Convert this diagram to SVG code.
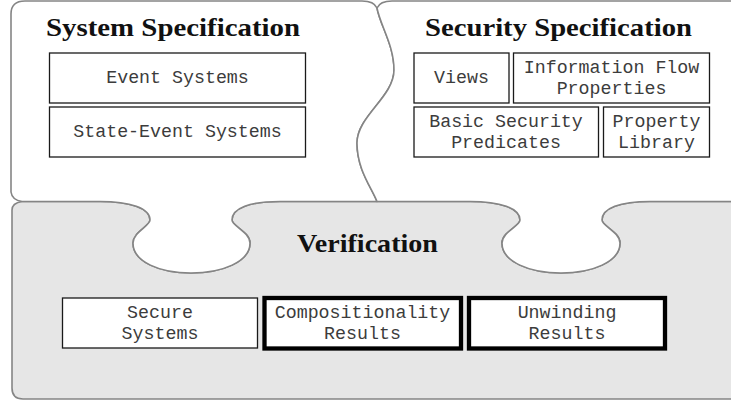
<svg xmlns="http://www.w3.org/2000/svg" width="731" height="403" viewBox="0 0 731 403">
  <style>
    .piece { stroke: #858585; stroke-width: 1.6; stroke-linejoin: round; }
    .top { fill: #ffffff; }
    .bottom { fill: #e6e6e6; }
    .title { font-family: "Liberation Serif", "Times New Roman", serif; font-weight: bold; font-size: 24.5px; fill: #111; }
    .box { fill: #ffffff; stroke: #1a1a1a; stroke-width: 1.3; }
    .box.strong { stroke: #000; stroke-width: 4.3; }
    .label { font-family: "Liberation Mono", "Courier New", monospace; font-size: 18.3px; fill: #3c3c3c; text-anchor: middle; }
  </style>

  <!-- puzzle pieces -->
  <g id="verification-piece">
    <path class="piece bottom" d="M 22,201.5 H 100
      C 130,201.5 150,208 150,220 C 150,226 133,232 133,243 C 133,262 160,273 191,273 C 222,273 250,262 250,243 C 250,232 232,226 232,220 C 232,208 250,201.5 280,201.5
      H 470
      C 500,201.5 520,208 520,220 C 520,226 502,232 502,243 C 502,262 530,273 561,273 C 592,273 620,262 620,243 C 620,232 602,226 602,220 C 602,208 620,201.5 650,201.5
      H 740 V 399 H 23 Q 12,399 12,388 V 210 Q 12,203 22,201.5 Z"/>
  </g>

  <g id="system-specification-piece">
    <path class="piece top" d="M 25,1 H 362 Q 374,1 377,8
      C 380,25 394,45 394,70 C 394,97 357,116 357,143 C 357,170 372,188 377,201.5
      H 280 C 250,201.5 232,208 232,220 C 232,226 250,232 250,243 C 250,262 222,273 191,273 C 160,273 133,262 133,243 C 133,232 150,226 150,220 C 150,208 130,201.5 100,201.5
      H 22 Q 12,200 11,192 V 14 Q 11,1 25,1 Z"/>
  </g>

  <g id="security-specification-piece">
    <path class="piece top" d="M 377,8 Q 380,1 392,1 H 740 V 201.5 H 650
      C 620,201.5 602,208 602,220 C 602,226 620,232 620,243 C 620,262 592,273 561,273 C 530,273 502,262 502,243 C 502,232 520,226 520,220 C 520,208 500,201.5 470,201.5
      H 377 C 372,188 357,170 357,143 C 357,116 394,97 394,70 C 394,45 380,25 377,8 Z"/>
  </g>

  <!-- titles -->
  <g id="title-system">
    <text class="title" x="46" y="36" textLength="254" lengthAdjust="spacingAndGlyphs">System Specification</text>
  </g>
  <g id="title-security">
    <text class="title" x="425" y="36" textLength="267" lengthAdjust="spacingAndGlyphs">Security Specification</text>
  </g>
  <g id="title-verification">
    <text class="title" x="297" y="252" textLength="141" lengthAdjust="spacingAndGlyphs">Verification</text>
  </g>

  <!-- system specification modules -->
  <g id="event-systems">
    <rect class="box" x="49.5" y="53" width="256" height="50"/>
    <text class="label" x="177.5" y="82.5">Event Systems</text>
  </g>
  <g id="state-event-systems">
    <rect class="box" x="49.5" y="107" width="256" height="50"/>
    <text class="label" x="177.5" y="136.5">State-Event Systems</text>
  </g>

  <!-- security specification modules -->
  <g id="views">
    <rect class="box" x="414" y="53" width="95" height="50"/>
    <text class="label" x="461.5" y="83">Views</text>
  </g>
  <g id="information-flow-properties">
    <rect class="box" x="513.5" y="53" width="196" height="50"/>
    <text class="label" x="611.5" y="72.5">Information Flow</text>
    <text class="label" x="611.5" y="93.5">Properties</text>
  </g>
  <g id="basic-security-predicates">
    <rect class="box" x="414" y="107" width="184.5" height="50"/>
    <text class="label" x="506" y="127">Basic Security</text>
    <text class="label" x="506" y="148">Predicates</text>
  </g>
  <g id="property-library">
    <rect class="box" x="603.5" y="107" width="106" height="50"/>
    <text class="label" x="656.5" y="127">Property</text>
    <text class="label" x="656.5" y="148">Library</text>
  </g>

  <!-- verification modules -->
  <g id="secure-systems">
    <rect class="box" x="62.5" y="298" width="195" height="50"/>
    <text class="label" x="160" y="317.5">Secure</text>
    <text class="label" x="160" y="338.5">Systems</text>
  </g>
  <g id="compositionality-results">
    <rect class="box strong" x="264.5" y="298" width="196.5" height="50.5"/>
    <text class="label" x="362.5" y="317.5">Compositionality</text>
    <text class="label" x="362.5" y="338.5">Results</text>
  </g>
  <g id="unwinding-results">
    <rect class="box strong" x="469" y="298" width="196" height="50.5"/>
    <text class="label" x="567" y="317.5">Unwinding</text>
    <text class="label" x="567" y="338.5">Results</text>
  </g>

  <!-- no connectors in this figure -->
  <g id="connectors"/>
</svg>
